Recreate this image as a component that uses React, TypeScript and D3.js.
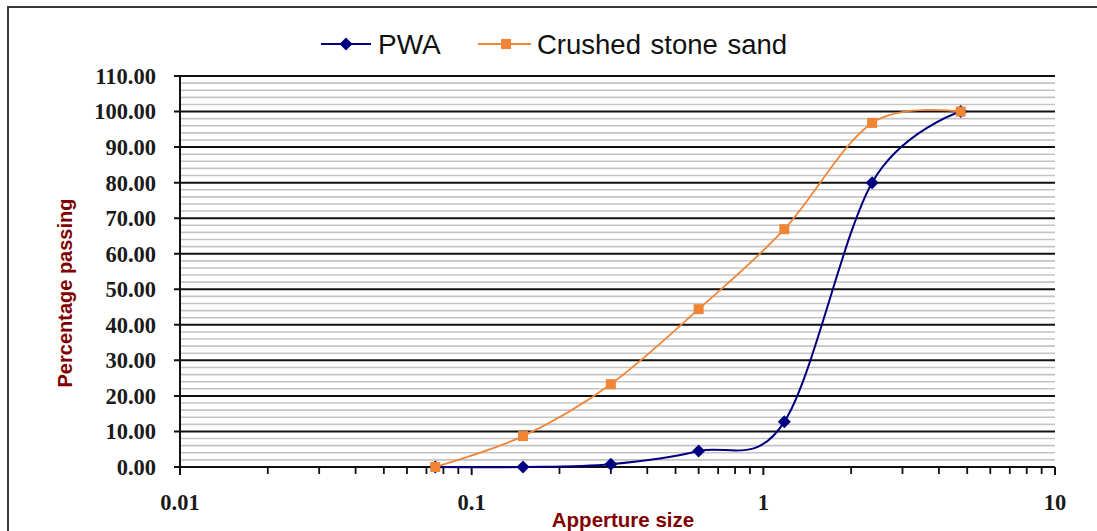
import React from "react";
import * as d3 from "d3";

const sieveSizes = [0.075, 0.15, 0.3, 0.6, 1.18, 2.36, 4.75];
const pwaValues = [0, 0, 0.8, 4.5, 12.7, 80.0, 100];
const crushedValues = [0, 8.7, 23.3, 44.4, 66.9, 96.8, 100];
const seriesNames = ["PWA", "Crushed stone sand"];
const xTickLabels = ["0.01", "0.1", "1", "10"];
const xTickValues = [0.01, 0.1, 1, 10];
const yMajorTicks = [0, 10, 20, 30, 40, 50, 60, 70, 80, 90, 100, 110];

const W = 1097;
const H = 531;
const plot = { left: 180, right: 1055, top: 76, bottom: 467 };
const NAVY = "#000080";
const ORANGE = "#F08536";
const DARKRED = "#800000";

export default function App() {
  const x = d3.scaleLog().domain([0.01, 10]).range([plot.left, plot.right]);
  const y = d3.scaleLinear().domain([0, 110]).range([plot.bottom, plot.top]);

  const minorY = d3.range(0, 110, 2).filter((v) => v % 10 !== 0);
  const minorX: number[] = [];
  [0.01, 0.1, 1].forEach((d) => {
    for (let k = 2; k <= 9; k++) minorX.push(d * k);
  });

  const line = d3
    .line<number>()
    .x((_, i) => x(sieveSizes[i]))
    .y((v) => y(v))
    .curve(d3.curveCardinal.tension(0));

  const diamond = (cx: number, cy: number, r: number) =>
    `M${cx},${cy - r}L${cx + r},${cy}L${cx},${cy + r}L${cx - r},${cy}Z`;

  const serif = "'Liberation Serif', 'Times New Roman', serif";
  const sans = "'Liberation Sans', Arial, sans-serif";

  return (
    <svg
      width={W}
      height={H}
      style={{ position: "absolute", left: 0, top: 0, background: "#fff" }}
    >
      <rect x={8} y={7} width={W + 20} height={H + 40} fill="#fff" stroke="#3a3a3a" strokeWidth={2} />

      {/* minor gridlines */}
      {minorY.map((v) => (
        <line key={"my" + v} x1={plot.left} x2={plot.right} y1={y(v)} y2={y(v)} stroke="#c4c4c4" strokeWidth={1.6} />
      ))}
      {/* major gridlines */}
      {yMajorTicks.map((v) => (
        <g key={"My" + v}>
          <line x1={plot.left - 6} x2={plot.right} y1={y(v)} y2={y(v)} stroke="#111" strokeWidth={2} />
          <text
            x={156}
            y={y(v)}
            dy="0.35em"
            textAnchor="end"
            fontFamily={serif}
            fontWeight="bold"
            fontSize={22.5}
            fill="#1a1a1a"
          >
            {v.toFixed(2)}
          </text>
        </g>
      ))}
      {/* y axis */}
      <line x1={plot.left} x2={plot.left} y1={plot.top} y2={plot.bottom} stroke="#111" strokeWidth={2} />
      {/* x ticks */}
      {minorX.map((v, i) => (
        <line key={"mx" + i} x1={x(v)} x2={x(v)} y1={plot.bottom} y2={plot.bottom + 7} stroke="#111" strokeWidth={1.8} />
      ))}
      {xTickValues.map((v, i) => (
        <g key={"Mx" + i}>
          <line x1={x(v)} x2={x(v)} y1={plot.bottom} y2={plot.bottom + 8} stroke="#111" strokeWidth={2} />
          <text
            x={x(v)}
            y={510}
            textAnchor="middle"
            fontFamily={serif}
            fontWeight="bold"
            fontSize={22.5}
            fill="#1a1a1a"
          >
            {xTickLabels[i]}
          </text>
        </g>
      ))}

      {/* axis titles */}
      <text
        transform={`translate(72,293) rotate(-90)`}
        textAnchor="middle"
        fontFamily={sans}
        fontWeight="bold"
        fontSize={20}
        fill={DARKRED}
      >
        Percentage passing
      </text>
      <text x={623} y={527} textAnchor="middle" fontFamily={sans} fontWeight="bold" fontSize={20.5} fill={DARKRED}>
        Apperture size
      </text>

      {/* PWA series */}
      <path d={line(pwaValues) || ""} fill="none" stroke={NAVY} strokeWidth={2} />
      {pwaValues.map((v, i) => (
        <path key={"pm" + i} d={diamond(x(sieveSizes[i]), y(v), 6.5)} fill={NAVY} />
      ))}

      {/* Crushed stone sand series */}
      <path d={line(crushedValues) || ""} fill="none" stroke={ORANGE} strokeWidth={1.8} />
      {crushedValues.map((v, i) => (
        <rect key={"cm" + i} x={x(sieveSizes[i]) - 5} y={y(v) - 5} width={10} height={10} fill={ORANGE} />
      ))}

      {/* legend */}
      <line x1={321} x2={371} y1={44} y2={44} stroke={NAVY} strokeWidth={2} />
      <path d={diamond(346, 44, 6.5)} fill={NAVY} />
      <text x={378} y={54} fontFamily={sans} fontSize={28} fill="#111">
        {seriesNames[0]}
      </text>
      <line x1={478} x2={531} y1={44} y2={44} stroke={ORANGE} strokeWidth={1.8} />
      <rect x={501} y={39} width={10} height={10} fill={ORANGE} />
      <text x={537} y={54} fontFamily={sans} fontSize={27.5} fill="#111" wordSpacing={2}>
        {seriesNames[1]}
      </text>
    </svg>
  );
}
